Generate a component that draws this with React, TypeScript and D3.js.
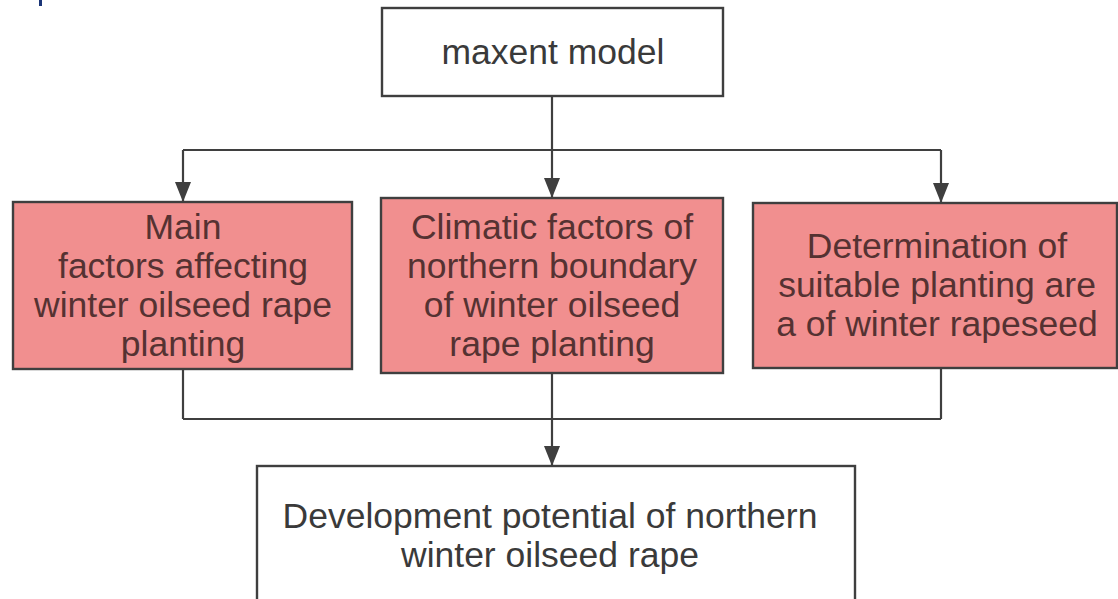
import React from "react";
import * as d3 from "d3";

// ---- content ----
const topLabel: string[] = ["maxent model"];
const leftLabel: string[] = ["Main", "factors affecting", "winter oilseed rape", "planting"];
const middleLabel: string[] = ["Climatic factors of", "northern boundary", "of winter oilseed", "rape planting"];
const rightLabel: string[] = ["Determination of", "suitable planting are", "a of winter rapeseed"];
const bottomLabel: string[] = ["Development potential of northern", "winter oilseed rape"];

// ---- layout ----
const W = 1118;
const H = 599;
const PINK = "#f18f8f";
const STROKE = "#3f3f3f";

type Box = { x0: number; x1: number; y0: number; y1: number; fill: string; lines: string[]; cx: number; cy: number; color: string };

const boxes: Box[] = [
  { x0: 382, x1: 723, y0: 8, y1: 96, fill: "#ffffff", lines: topLabel, cx: 553, cy: 52, color: "#3a3a3a" },
  { x0: 13, x1: 352, y0: 202, y1: 369, fill: PINK, lines: leftLabel, cx: 183, cy: 285, color: "#553232" },
  { x0: 381, x1: 723, y0: 198, y1: 373, fill: PINK, lines: middleLabel, cx: 552, cy: 285, color: "#553232" },
  { x0: 753, x1: 1117, y0: 203, y1: 368, fill: PINK, lines: rightLabel, cx: 937, cy: 285, color: "#553232" },
  { x0: 257, x1: 855, y0: 466, y1: 640, fill: "#ffffff", lines: bottomLabel, cx: 550, cy: 535, color: "#3a3a3a" },
];

const LINE_H = 39;
const FONT = 35.5;

const xs = { left: 183, mid: 552, right: 941 };
const yTopBus = 150;
const yBotBus = 419;

const line = d3.line<[number, number]>().x((d) => d[0]).y((d) => d[1]);

const connectors: [number, number][][] = [
  [[xs.mid, 96], [xs.mid, yTopBus]],
  [[xs.left, yTopBus], [xs.right, yTopBus]],
  [[xs.left, yTopBus], [xs.left, 202]],
  [[xs.mid, yTopBus], [xs.mid, 198]],
  [[xs.right, yTopBus], [xs.right, 203]],
  [[xs.left, 369], [xs.left, yBotBus]],
  [[xs.right, 368], [xs.right, yBotBus]],
  [[xs.left, yBotBus], [xs.right, yBotBus]],
  [[xs.mid, 373], [xs.mid, 466]],
];

const arrowTips: [number, number][] = [
  [xs.left, 202],
  [xs.mid, 198],
  [xs.right, 203],
  [xs.mid, 466],
];

function arrowPath(tip: [number, number]): string {
  const p = d3.path();
  const w = 8;
  const h = 20;
  p.moveTo(tip[0], tip[1]);
  p.lineTo(tip[0] - w, tip[1] - h);
  p.lineTo(tip[0] + w, tip[1] - h);
  p.closePath();
  return p.toString();
}

export default function App() {
  return (
    <svg
      width={W}
      height={H}
      viewBox={`0 0 ${W} ${H}`}
      style={{ position: "fixed", left: 0, top: 0, background: "#ffffff", display: "block" }}
      fontFamily="'Liberation Sans', Arial, sans-serif"
    >
      <rect x={0} y={0} width={W} height={H} fill="#ffffff" />
      <rect x={39} y={0} width={3} height={6} fill="#1b3577" />
      {connectors.map((c, i) => (
        <path key={"c" + i} d={line(c) || ""} stroke={STROKE} strokeWidth={2.2} fill="none" />
      ))}
      {arrowTips.map((t, i) => (
        <path key={"a" + i} d={arrowPath(t)} fill={STROKE} />
      ))}
      {boxes.map((b, i) => (
        <g key={"b" + i}>
          <rect x={b.x0} y={b.y0} width={b.x1 - b.x0} height={b.y1 - b.y0} fill={b.fill} stroke={STROKE} strokeWidth={2.4} />
          {b.lines.map((t, j) => (
            <text
              key={j}
              x={b.cx}
              y={b.cy + (j - (b.lines.length - 1) / 2) * LINE_H}
              textAnchor="middle"
              dominantBaseline="central"
              fontSize={FONT}
              fill={b.color}
            >
              {t}
            </text>
          ))}
        </g>
      ))}
    </svg>
  );
}
